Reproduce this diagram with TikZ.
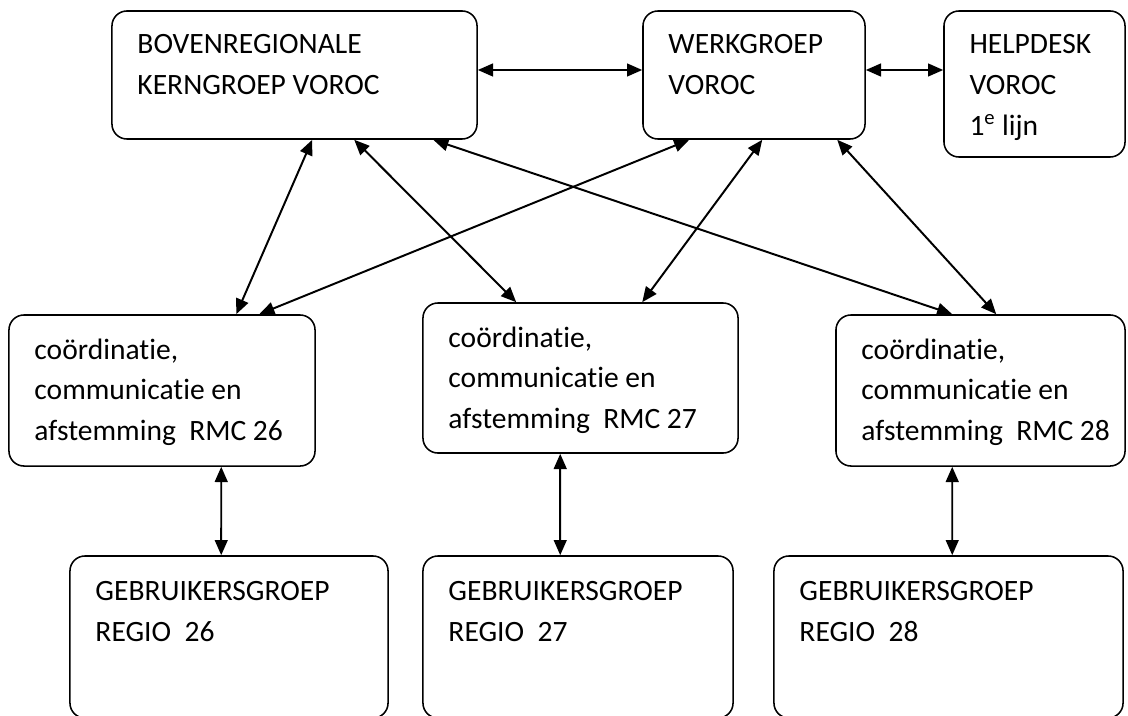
\documentclass[tikz,border=0pt]{standalone}
\usepackage{fontspec}
\setmainfont{Carlito}[Ligatures=CommonOff]
\usetikzlibrary{arrows.meta}

\begin{document}
\begin{tikzpicture}[x=0.025cm,y=-0.025cm]
        \tikzstyle{blok}=[draw=black,line width=1.1pt,rounded corners=0.375cm,inner sep=0pt]
        \tikzstyle{tekst}=[anchor=north west,align=left,inner sep=0pt,xshift=0.65cm,yshift=-0.6cm,font=\fontsize{21}{29}\selectfont,execute at begin node=\strut]
        \tikzstyle{pijl}=[line width=1.4pt,{Triangle[length=0.38cm,width=0.32cm]}-{Triangle[length=0.38cm,width=0.32cm]}]

        \clip (0,0) rectangle (1128,715);

        \node (bov)[blok,minimum width=9.125cm,minimum height=3.2cm,label={[tekst]north west:BOVENREGIONALE\\KERNGROEP VOROC}] at (294.5,75) {};
        \node (werk)[blok,minimum width=5.55cm,minimum height=3.2cm,label={[tekst]north west:WERKGROEP\\VOROC}] at (754,75) {};
        \node (help)[blok,minimum width=4.525cm,minimum height=3.65cm,label={[tekst]north west:HELPDESK\\VOROC\\1\textsuperscript{e} lijn}] at (1034.5,84) {};
        \node (r26)[blok,minimum width=7.65cm,minimum height=3.775cm,label={[tekst]north west:{coördinatie,\\communicatie en\\afstemming\ \ RMC 26}}] at (162,390.5) {};
        \node (r27)[blok,minimum width=7.875cm,minimum height=3.75cm,label={[tekst]north west:{coördinatie,\\communicatie en\\afstemming\ \ RMC 27}}] at (580.5,378) {};
        \node (r28)[blok,minimum width=7.225cm,minimum height=3.775cm,label={[tekst]north west:{coördinatie,\\communicatie en\\afstemming\ \ RMC 28}}] at (980.5,390.5) {};
        \node (g26)[blok,minimum width=7.95cm,minimum height=4.05cm,label={[tekst,yshift=-0.05cm]north west:GEBRUIKERSGROEP\\REGIO\ \ 26}] at (229,637) {};
        \node (g27)[blok,minimum width=7.75cm,minimum height=4.05cm,label={[tekst,yshift=-0.05cm]north west:GEBRUIKERSGROEP\\REGIO\ \ 27}] at (578,637) {};
        \node (g28)[blok,minimum width=8.725cm,minimum height=4.05cm,label={[tekst,yshift=-0.05cm]north west:GEBRUIKERSGROEP\\REGIO\ \ 28}] at (948.5,637) {};

        \draw[pijl] ([yshift=0.125cm]bov.east) -- ([yshift=0.125cm]werk.west);
        \draw[pijl] ([yshift=0.125cm]werk.east) -- ([yshift=0.125cm]werk.east -| help.west);

        \draw[pijl] ([xshift=5.025cm]bov.south west) -- ([xshift=5.7cm]r26.north west);
        \draw[pijl] ([xshift=6.075cm]bov.south west) -- ([xshift=2.35cm]r27.north west);
        \draw[pijl] ([xshift=8.05cm]bov.south west) -- ([xshift=2.925cm]r28.north west);
        \draw[pijl] ([xshift=1.175cm]werk.south west) -- ([xshift=6.275cm]r26.north west);
        \draw[pijl] ([xshift=3cm]werk.south west) -- ([xshift=5.5cm]r27.north west);
        \draw[pijl] ([xshift=4.875cm]werk.south west) -- ([xshift=4.025cm]r28.north west);

        \draw[pijl] ([xshift=5.325cm]r26.south west) -- ([xshift=3.8cm]g26.north west);
        \draw[pijl] ([xshift=3.45cm]r27.south west) -- ([xshift=3.45cm]g27.north west);
        \draw[pijl] ([xshift=2.925cm]r28.south west) -- ([xshift=4.475cm]g28.north west);
    \end{tikzpicture}
\end{document}
